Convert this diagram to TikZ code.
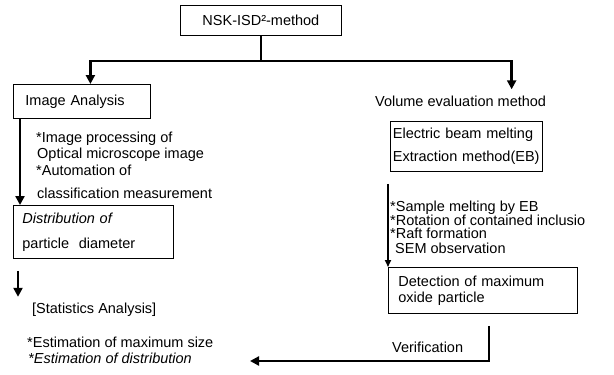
\documentclass[tikz,border=0pt]{standalone}
\usepackage{fontspec}
\setmainfont{Liberation Sans}
\usetikzlibrary{arrows.meta,positioning}

\begin{document}
\begin{tikzpicture}[x=1pt, y=-1pt, font=\fontsize{14.5}{14}\selectfont,
  box/.style = {draw, line width=0.8pt, anchor=north west, align=left, inner ysep=0pt},
  txt/.style = {anchor=base west, inner sep=0pt},
  arr/.style = {line width=2.6pt, -{Triangle[length=9pt,width=9pt]}},
  thinarr/.style = {line width=1.6pt, -{Triangle[length=7pt,width=6pt]}}]
  \useasboundingbox (0,0) rectangle (614,375);
  % boxes
  \node[box, align=center, minimum width=161pt, minimum height=30pt] (nsk) at (180,5) {NSK-ISD²-method};
  \node[box, inner xsep=12pt, text width=113pt, minimum height=34pt] (img) at (13,84) {Image Analysis};
  \node[box, inner xsep=9pt, text width=142pt, minimum height=53pt] (dist) at (13,205) {\textit{Distribution of}\\[11pt]particle~~diameter};
  \node[box, inner xsep=2.5pt, text width=147pt, minimum height=50pt] (elec) at (390,121) {Electric beam melting\\[9pt]\mbox{Extraction method(EB)}};
  \node[box, inner xsep=10pt, text width=169pt, minimum height=46pt] (det) at (388,267) {Detection of maximum\\[2pt]oxide particle};
  % free text
  \node[txt] (vol) at (375,106) {Volume evaluation method};
  \node[txt] (ip1) at (36,142) {*Image processing of};
  \node[txt] (ip2) at (37,158) {Optical microscope image};
  \node[txt] (ip3) at (36,175) {*Automation of};
  \node[txt] (ip4) at (37,198) {classification measurement};
  \node[txt] (eb1) at (390,211) {*Sample melting by EB};
  \node[txt] (eb2) at (390,225) {*Rotation of contained inclusio};
  \node[txt] (eb3) at (390,238) {*Raft formation};
  \node[txt] (eb4) at (395,253) {SEM observation};
  \node[txt] (stat) at (32,313) {[Statistics Analysis]};
  \node[txt] (est1) at (27,347) {*Estimation of maximum size};
  \node[txt] (est2) at (28,363) {\textit{*Estimation of distribution}};
  \node[txt] (verif) at (392,352) {Verification};
  \coordinate (vend) at (250,361);
  % connectors
  \draw[arr] (nsk.south) -- ++(0,25) coordinate (fork) -| ([xshift=8.5pt]img.north);
  \draw[arr] (fork) -| ([xshift=51pt,yshift=6pt]vol.north);
  \draw[arr] ([xshift=7pt]img.south west) -- ([xshift=7pt]dist.north west);
  \draw[arr] ([shift={(5pt,-12pt)}]dist.south west) -- ([shift={(5pt,-38pt)}]dist.south west);
  \draw[thinarr] ([shift={(-2pt,-12pt)}]elec.south west) -- (det.north west);
  \draw[arr] ([shift={(101pt,-12pt)}]det.south west) |- (vend);
\end{tikzpicture}
\end{document}
